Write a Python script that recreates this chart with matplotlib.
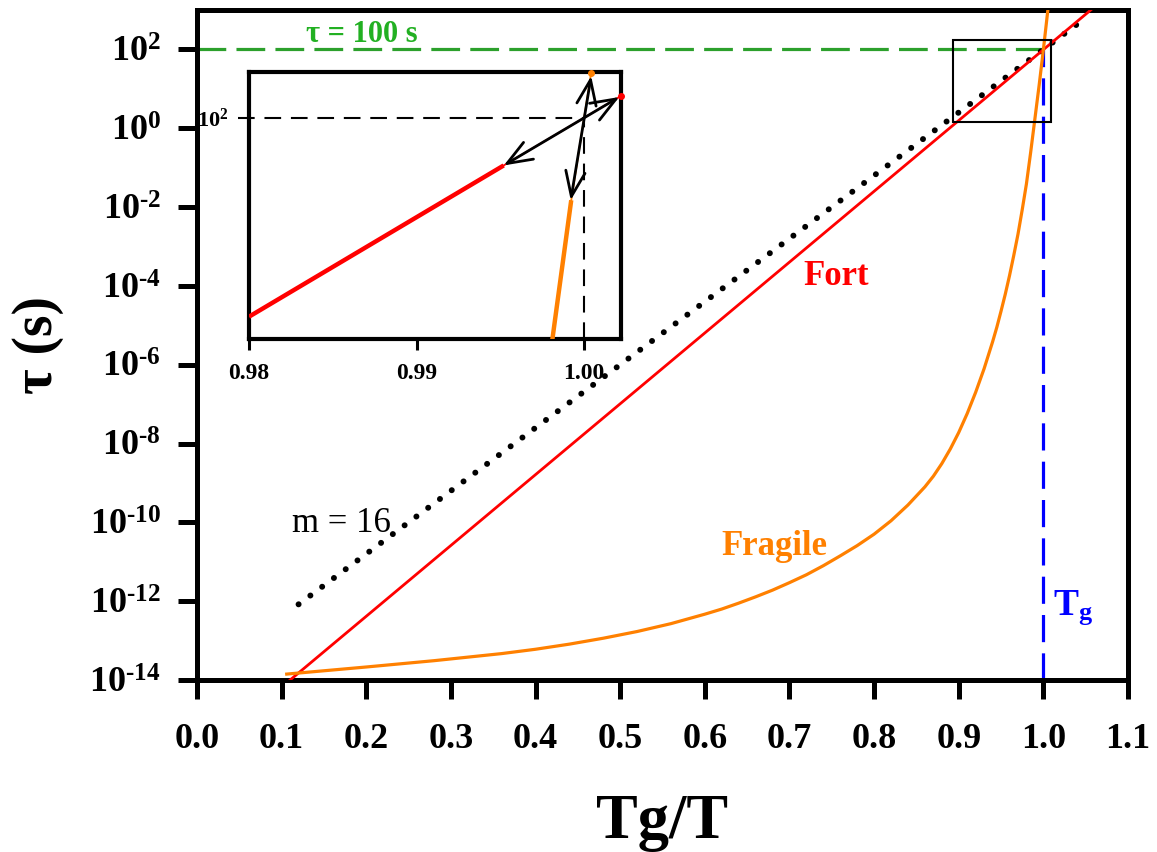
import numpy as np
import matplotlib
matplotlib.use('Agg')
import matplotlib.pyplot as plt
from matplotlib.ticker import FixedLocator, FuncFormatter, NullLocator
from matplotlib.patches import Rectangle

plt.rcParams['font.family'] = ['Liberation Serif', 'DejaVu Serif']
plt.rcParams['mathtext.fontset'] = 'custom'
plt.rcParams['mathtext.rm'] = 'Liberation Serif:bold'
plt.rcParams['mathtext.bf'] = 'Liberation Serif:bold'
plt.rcParams['mathtext.it'] = 'Liberation Serif:bold:italic'

# ---------------- data ----------------
x_ticks = [0.0, 0.1, 0.2, 0.3, 0.4, 0.5, 0.6, 0.7, 0.8, 0.9, 1.0, 1.1]
x_ticklabels = ['0.0', '0.1', '0.2', '0.3', '0.4', '0.5', '0.6', '0.7', '0.8', '0.9', '1.0', '1.1']
y_tick_exps = [-14, -12, -10, -8, -6, -4, -2, 0, 2]

# strong liquid ("Fort")
fort_x = [0.11, 1.056]
fort_logtau = [-14.0, 3.0]

# reference line m = 16
m16_x = [0.12, 1.05]
m16_logtau = [-12.08, 2.80]

# fragile liquid
frag_x = [0.106, 0.20, 0.24, 0.28, 0.32, 0.36, 0.40, 0.44, 0.48, 0.52, 0.56,
          0.60, 0.62, 0.64, 0.66, 0.68, 0.70, 0.72, 0.74, 0.76, 0.78, 0.80,
          0.82, 0.84, 0.86, 0.87, 0.88, 0.89, 0.90, 0.91, 0.92, 0.93, 0.94,
          0.945, 0.95, 0.955, 0.96, 0.965, 0.97, 0.975, 0.98, 0.985, 0.99,
          0.995, 1.000, 1.006]
frag_logtau = [-13.85, -13.67, -13.59, -13.51, -13.42, -13.33, -13.22, -13.09,
               -12.94, -12.77, -12.57, -12.33, -12.20, -12.05, -11.89, -11.72,
               -11.53, -11.33, -11.10, -10.85, -10.59, -10.30, -9.96, -9.56,
               -9.10, -8.83, -8.51, -8.14, -7.72, -7.24, -6.70, -6.10, -5.42,
               -5.05, -4.64, -4.21, -3.74, -3.23, -2.69, -2.07, -1.41, -0.61,
               0.24, 1.09, 1.99, 3.13]

tau_ref = 100.0          # tau = 100 s
x_glass = 1.0            # Tg/T = 1

zoom_box_x = [0.893, 1.009]
zoom_box_logtau = [0.17, 2.25]

# inset
inset_x_ticks = [0.98, 0.99, 1.00]
inset_x_ticklabels = ['0.98', '0.99', '1.00']
inset_fort_x = [0.980, 0.9952, 1.0022]
inset_fort_logtau = [1.640, 1.914, 2.040]
inset_frag_x = [0.9981, 0.99923, 1.00042]
inset_frag_logtau = [1.598, 1.851, 2.082]

RED = '#ff0000'
ORANGE = '#ff8000'
BLUE = '#0000ff'
GREEN_LINE = '#2ca02c'
GREEN_TEXT = '#22b022'

HYPHEN = '\u2010'


def pow_label(v, p):
    e = int(round(np.log10(v)))
    if e < 0:
        return '$10^{' + HYPHEN + str(abs(e)) + '}$'
    return '$10^{' + str(e) + '}$'


# ---------------- figure ----------------
fig = plt.figure(figsize=(11.57, 8.52), dpi=100)
ax = fig.add_axes([197 / 1157, 1 - 680 / 852, 931 / 1157, 670 / 852])
ax.set_yscale('log')
ax.set_xlim(0.0, 1.1)
ax.set_ylim(1e-14, 10 ** 3.0)

ft = lambda v: 10.0 ** np.asarray(v)

# lines
ax.plot([0.0, x_glass], [tau_ref, tau_ref], color=GREEN_LINE, lw=2.3,
        linestyle=(0, (9, 3.2)), zorder=2)
ax.plot([x_glass, x_glass], [1e-14, tau_ref], color=BLUE, lw=2.3,
        linestyle=(0, (8.5, 3.5)), zorder=2)
ax.plot(m16_x, ft(m16_logtau), color='black', lw=4.3,
        linestyle=(0, (0.01, 2.45)), dash_capstyle='round', zorder=3)
ax.plot(fort_x, ft(fort_logtau), color=RED, lw=2.0, zorder=4)
ax.plot(frag_x, ft(frag_logtau), color=ORANGE, lw=2.3, zorder=4,
        solid_joinstyle='round')

ax.add_patch(Rectangle((zoom_box_x[0], 10 ** zoom_box_logtau[0]),
                       zoom_box_x[1] - zoom_box_x[0],
                       10 ** zoom_box_logtau[1] - 10 ** zoom_box_logtau[0],
                       fill=False, edgecolor='black', lw=1.5, zorder=5))

# texts
ax.text(0.195, 10 ** 2.18, 'τ = 100 s', color=GREEN_TEXT, fontsize=22,
        fontweight='bold', ha='center', va='baseline')
ax.text(0.716, 10 ** -3.98, 'Fort', color=RED, fontsize=25,
        fontweight='bold', ha='left', va='baseline')
ax.text(0.620, 10 ** -10.83, 'Fragile', color=ORANGE, fontsize=25,
        fontweight='bold', ha='left', va='baseline')
ax.text(0.112, 10 ** -10.25, 'm = 16', color='black', fontsize=25,
        ha='left', va='baseline')
ax.text(1.011, 10 ** -12.35, r'$\mathrm{T_g}$', color=BLUE, fontsize=27,
        ha='left', va='baseline')

# axes styling
for s in ax.spines.values():
    s.set_linewidth(3.6)
ax.xaxis.set_major_locator(FixedLocator(x_ticks))
ax.set_xticklabels(x_ticklabels)
ax.xaxis.set_minor_locator(NullLocator())
ax.yaxis.set_major_locator(FixedLocator([10.0 ** e for e in y_tick_exps]))
ax.yaxis.set_minor_locator(NullLocator())
ax.yaxis.set_major_formatter(FuncFormatter(pow_label))
ax.tick_params(axis='both', which='major', direction='out', length=14,
               width=3.6, labelsize=26, top=False, right=False)
ax.tick_params(axis='x', pad=17)
ax.tick_params(axis='y', pad=12)
for lab in ax.get_xticklabels():
    lab.set_fontweight('bold')

ax.set_xlabel('Tg/T', fontsize=45, fontweight='bold', va='baseline')
ax.xaxis.set_label_coords(0.5, (680 - 838) / 670)
ax.set_ylabel('τ (s)', fontsize=40, fontweight='bold', va='center', ha='center')
ax.yaxis.set_label_coords((38 - 197) / 931, 0.5)

# ---------------- inset ----------------
axi = fig.add_axes([249 / 1157, 1 - 339 / 852, 372 / 1157, 267 / 852])
axi.set_yscale('log')
axi.set_xlim(0.98, 1.0022)
axi.set_ylim(10 ** 1.5996, 10 ** 2.0833)
for s in axi.spines.values():
    s.set_linewidth(3.0)
axi.xaxis.set_major_locator(FixedLocator(inset_x_ticks))
axi.set_xticklabels(inset_x_ticklabels)
axi.xaxis.set_minor_locator(NullLocator())
axi.yaxis.set_major_locator(FixedLocator([tau_ref]))
axi.yaxis.set_minor_locator(NullLocator())
axi.yaxis.set_major_formatter(FuncFormatter(pow_label))
axi.tick_params(axis='x', direction='out', length=8, width=2.2,
                labelsize=17, pad=9, top=False)
axi.tick_params(axis='y', length=0, labelsize=16, pad=15, right=False)
for lab in axi.get_xticklabels():
    lab.set_fontweight('bold')

xl0 = 0.98 - 0.03 * (1.0022 - 0.98)
axi.plot([xl0, x_glass], [tau_ref, tau_ref], color='black', lw=1.5,
         linestyle=(0, (8, 4.7)), clip_on=False, zorder=2)
axi.plot([x_glass, x_glass], [10 ** 1.5996, tau_ref], color='black', lw=1.5,
         linestyle=(0, (8, 4.7)), zorder=2)

fx = inset_fort_x
fl = inset_fort_logtau
axi.plot(fx[:2], ft(fl[:2]), color=RED, lw=3.2, solid_capstyle='butt', zorder=3)
axi.plot(fx[1:], ft(fl[1:]), color=RED, lw=1.3, zorder=3)
axi.plot([fx[-1]], [10 ** fl[-1]], 'o', color=RED, ms=4, clip_on=False, zorder=6)

gx = inset_frag_x
gl = inset_frag_logtau
axi.plot(gx[:2], ft(gl[:2]), color=ORANGE, lw=3.2, solid_capstyle='butt', zorder=3)
axi.plot(gx[1:], ft(gl[1:]), color=ORANGE, lw=1.3, zorder=3)
axi.plot([gx[-1]], [10 ** gl[-1]], 'o', color=ORANGE, ms=4, clip_on=False, zorder=6)

arrow_kw = dict(arrowstyle='<->,head_length=0.9,head_width=0.35',
                mutation_scale=20, color='black', lw=2.0, shrinkA=0, shrinkB=0)
axi.annotate('', xy=(fx[1], 10 ** fl[1]), xytext=(fx[2] - 0.0001, 10 ** (fl[2] - 0.002)),
             arrowprops=arrow_kw, zorder=5, annotation_clip=False)
axi.annotate('', xy=(gx[1] - 0.00003, 10 ** gl[1]), xytext=(gx[2], 10 ** (gl[2] - 0.006)),
             arrowprops=arrow_kw, zorder=5, annotation_clip=False)

fig.savefig('out.png', dpi=100)
